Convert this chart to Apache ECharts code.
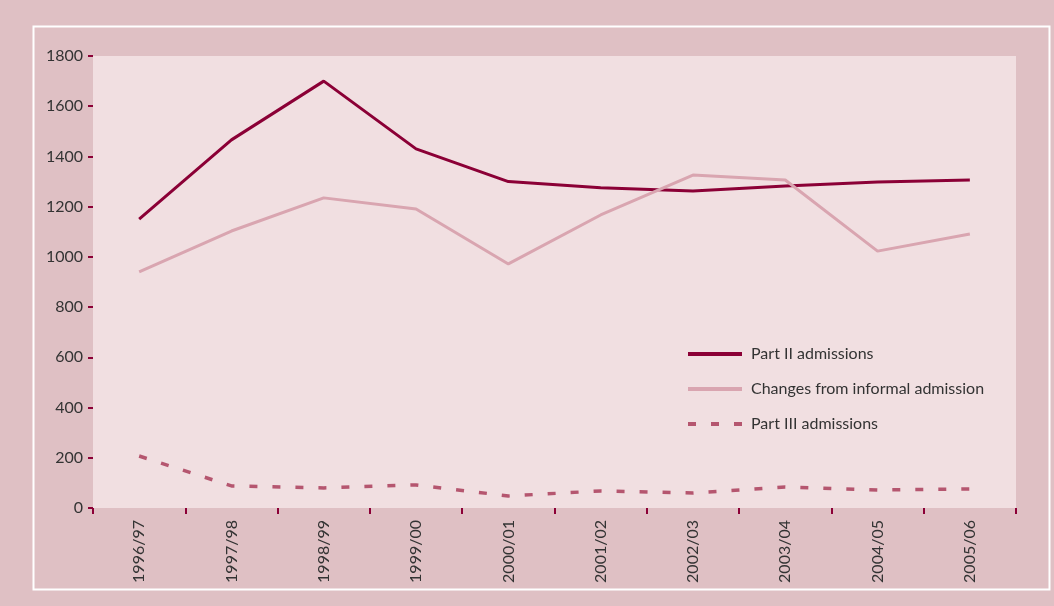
<!DOCTYPE html>
<html>
<head>
<meta charset="utf-8">
<script src="https://cdn.jsdelivr.net/npm/echarts@6/dist/echarts.min.js"></script>
<style>
html,body{margin:0;padding:0;background:#dfc0c4;}
#chart{width:1054px;height:606px;}
</style>
</head>
<body>
<div id="chart"></div>
<script>
var myChart = echarts.init(document.getElementById('chart'));

// categories and values
var years = ['1996/97','1997/98','1998/99','1999/00','2000/01','2001/02','2002/03','2003/04','2004/05','2005/06'];
var partTwo = [1150, 1466, 1700, 1430, 1300, 1275, 1262, 1282, 1298, 1306];
var informal = [940, 1103, 1235, 1191, 972, 1167, 1326, 1306, 1023, 1091];
var partThree = [207, 88, 80, 92, 48, 68, 60, 84, 72, 76];

var font = 'Lato, "Open Sans", sans-serif';

option = {
    backgroundColor: '#dfc0c4',
    animation: false,
    textStyle: { fontFamily: font },
    graphic: [{
        type: 'rect',
        left: 31, top: 24,
        shape: { width: 1016, height: 563 },
        style: { fill: 'none', stroke: '#ffffff', lineWidth: 2 },
        z: 0
    }],
    grid: {
        left: 93, right: 38, top: 56, bottom: 98,
        show: true,
        backgroundColor: '#f1dfe1',
        borderWidth: 0
    },
    legend: {
        orient: 'vertical',
        left: 681, top: 341,
        itemWidth: 54, itemHeight: 14,
        itemGap: 19,
        itemStyle: { opacity: 0 },
        lineStyle: { width: 4 },
        textStyle: { fontSize: 16, color: '#333', fontFamily: font, padding: [0, 0, 0, 4] },
        data: ['Part II admissions', 'Changes from informal admission', 'Part III admissions']
    },
    xAxis: {
        type: 'category',
        data: years,
        boundaryGap: true,
        axisLine: { show: false },
        axisTick: { show: true, interval: 0, length: 6, lineStyle: { color: '#8b0036', width: 2 } },
        axisLabel: { rotate: 90, interval: 0, fontSize: 16, color: '#333', margin: 12 },
        splitLine: { show: false }
    },
    yAxis: {
        type: 'value',
        min: 0, max: 1800, interval: 200,
        axisLine: { show: false },
        axisTick: { show: true, length: 5, lineStyle: { color: '#8b0036', width: 2 } },
        axisLabel: { fontSize: 16, color: '#333', margin: 10, formatter: function (v) { return String(v); } },
        splitLine: { show: false }
    },
    series: [{
        name: 'Part II admissions',
        type: 'line',
        data: partTwo,
        symbol: 'none',
        lineStyle: { color: '#8b0036', width: 3 },
        itemStyle: { color: '#8b0036' }
    }, {
        name: 'Changes from informal admission',
        type: 'line',
        data: informal,
        symbol: 'none',
        lineStyle: { color: '#d9a5b0', width: 3 },
        itemStyle: { color: '#d9a5b0' }
    }, {
        name: 'Part III admissions',
        type: 'line',
        data: partThree,
        symbol: 'none',
        lineStyle: { color: '#b5566f', width: 3.5, type: [8, 15] },
        itemStyle: { color: '#b5566f' }
    }]
};

myChart.setOption(option);
</script>
</body>
</html>
